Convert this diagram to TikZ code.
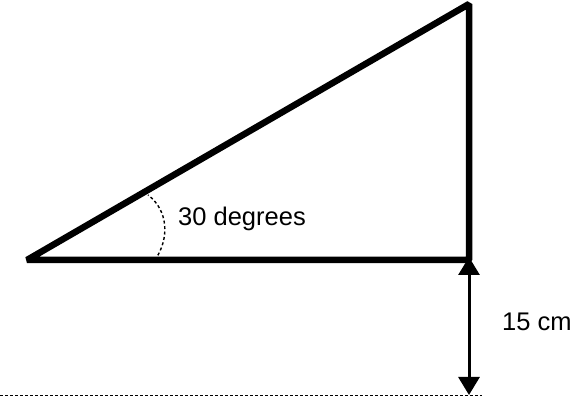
\documentclass[tikz,border=0pt]{standalone}
\usepackage{fontspec}
\setmainfont{Liberation Sans}
\usetikzlibrary{arrows.meta}
\tikzset{
  tri/.style={line width=6.5pt, line join=bevel},
  dimarrow/.style={line width=3pt, {Triangle[length=18pt,width=21pt]}-{Triangle[length=18pt,width=21pt]}},
  angarc/.style={line width=1.4pt, dash pattern=on 3pt off 2.5pt},
  baseline dots/.style={line width=1.2pt, dash pattern=on 2.5pt off 2.5pt},
  lbl/.style={inner sep=0pt, anchor=base west, font=\fontsize{25.5}{30}\selectfont}
}
\begin{document}
\begin{tikzpicture}[x=1pt,y=-1pt]
\useasboundingbox (0,0) rectangle (571,398);
\coordinate (A) at (27,260);
\coordinate (B) at (469,260);
\coordinate (C) at (469,4);
\coordinate (arcS) at (155,260);
\coordinate (arcE) at (148,195);
\coordinate (D) at (469,395);
\coordinate (dotL) at (0,395.5);
\coordinate (dotR) at (482,395.5);
\draw[tri] (A) -- (B) -- (C) -- cycle;
\draw[angarc] (arcS) .. controls (170,238) and (168,210) .. (arcE);
\draw[dimarrow] ([yshift=3pt]B) -- (D);
\draw[baseline dots] (dotL) -- (dotR);
\node[lbl] (ang) at (178,226) {30 degrees};
\node[lbl] (len) at (502,331) {15 cm};
\end{tikzpicture}
\end{document}
